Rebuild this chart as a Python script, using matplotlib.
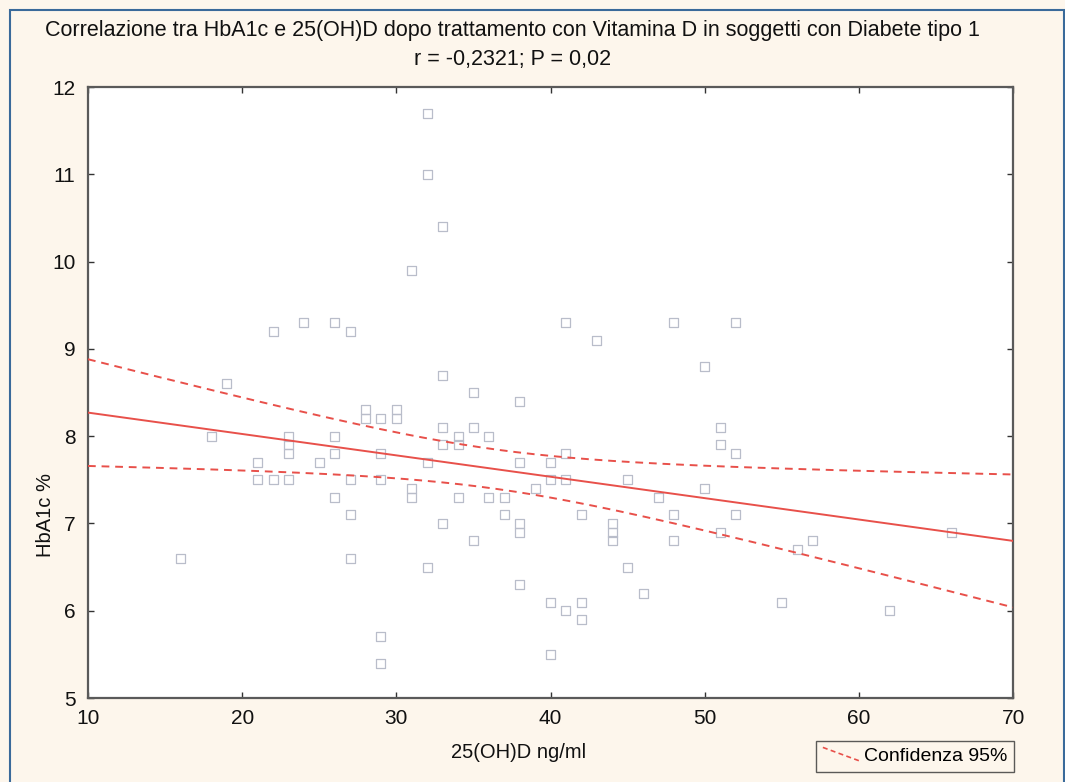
import numpy as np
import matplotlib
matplotlib.use("Agg")
import matplotlib.pyplot as plt
from matplotlib.lines import Line2D
from matplotlib.legend_handler import HandlerLine2D
from matplotlib.patches import Rectangle

plt.rcParams['font.family'] = ['Liberation Sans', 'DejaVu Sans']

# 25(OH)D ng/ml and HbA1c %
vit_d = [16, 18, 19, 21, 21, 22, 22, 23, 23, 23, 23, 24, 25,
         26, 26, 26, 26, 27, 27, 27, 27, 28, 28, 29, 29, 29, 29, 29,
         30, 30, 31, 31, 31, 32, 32, 32, 32, 33, 33, 33, 33, 33,
         34, 34, 34, 35, 35, 35, 36, 36, 37, 37, 38, 38, 38, 38, 38,
         39, 40, 40, 40, 40, 41, 41, 41, 41, 42, 42, 42, 43,
         44, 44, 44, 45, 45, 46, 47, 48, 48, 48, 50, 50,
         51, 51, 51, 52, 52, 52, 55, 56, 57, 62, 66]
hba1c = [6.6, 8.0, 8.6, 7.7, 7.5, 9.2, 7.5, 8.0, 7.9, 7.8, 7.5, 9.3, 7.7,
         9.3, 8.0, 7.8, 7.3, 9.2, 7.5, 7.1, 6.6, 8.3, 8.2, 8.2, 7.8, 7.5, 5.7, 5.4,
         8.3, 8.2, 9.9, 7.4, 7.3, 11.7, 11.0, 7.7, 6.5, 10.4, 8.7, 8.1, 7.9, 7.0,
         8.0, 7.9, 7.3, 8.5, 8.1, 6.8, 8.0, 7.3, 7.3, 7.1, 8.4, 7.7, 7.0, 6.9, 6.3,
         7.4, 7.7, 7.5, 6.1, 5.5, 9.3, 7.8, 7.5, 6.0, 7.1, 6.1, 5.9, 9.1,
         7.0, 6.9, 6.8, 7.5, 6.5, 6.2, 7.3, 9.3, 7.1, 6.8, 8.8, 7.4,
         8.1, 7.9, 6.9, 9.3, 7.8, 7.1, 6.1, 6.7, 6.8, 6.0, 6.9]

# regression line as drawn in the original (value at x=10 and x=70)
fit_ends = [8.27, 6.80]

title = ("Correlazione tra HbA1c e 25(OH)D dopo trattamento con Vitamina D in soggetti con Diabete tipo 1\n"
         "r = -0,2321; P = 0,02")

x = np.array(vit_d, dtype=float)
y = np.array(hba1c, dtype=float)
n = len(x)
slope = (fit_ends[1] - fit_ends[0]) / 60.0
intercept = fit_ends[0] - slope * 10
resid = y - (intercept + slope * x)
s = np.sqrt(np.sum(resid ** 2) / (n - 2))
sxx = np.sum((x - x.mean()) ** 2)
xs = np.linspace(10, 70, 200)
fit = intercept + slope * xs
half = 1.985 * s * np.sqrt(1.0 / n + (xs - x.mean()) ** 2 / sxx)

bg = '#fdf6ec'
red = '#e8504a'
fig = plt.figure(figsize=(10.65, 7.82), dpi=100, facecolor=bg)
ax = fig.add_axes([0.0826, 0.1074, 0.8687, 0.7813])
ax.set_facecolor('white')

ax.scatter(x, y, marker='s', s=42, facecolors='none', edgecolors='#b9bdca', linewidths=0.9, zorder=2)
ax.plot(xs, fit, color=red, lw=1.4, zorder=3)
ax.plot(xs, fit + half, color=red, lw=1.4, ls=(0, (4, 3)), zorder=3)
ax.plot(xs, fit - half, color=red, lw=1.4, ls=(0, (4, 3)), zorder=3)

ax.set_xlim(10, 70)
ax.set_ylim(5, 12)
ax.set_xticks(range(10, 71, 10))
ax.set_yticks(range(5, 13))
ax.tick_params(direction='in', length=4, width=1, top=True, right=True,
               labelsize=15, colors='#333333', labelcolor='#111111')
ax.tick_params(axis='x', pad=8)
ax.tick_params(axis='y', pad=9)
for sp in ax.spines.values():
    sp.set_color('#5a5a5a')
    sp.set_linewidth(1.6)

fig.text(0.481, 0.975, title, ha='center', va='top', fontsize=15.5, linespacing=1.55, color='#111111')
fig.text(0.487, 0.038, "25(OH)D ng/ml", ha='center', va='center', fontsize=14.5, color='#111111')
fig.text(0.043, 0.342, "HbA1c %", ha='center', va='center', rotation=90, fontsize=14.5, color='#111111')


class DiagHandler(HandlerLine2D):
    def create_artists(self, legend, orig_handle, xdescent, ydescent, width, height, fontsize, trans):
        l1 = Line2D([0, width], [height, 0], color=red, lw=1.2, ls=(0, (3, 2)), transform=trans)
        return [l1]


handle = Line2D([], [], color=red, ls='--')
leg = fig.legend([handle], ["Confidenza 95%"], handler_map={Line2D: DiagHandler()},
                 loc='lower right', bbox_to_anchor=(0.952, 0.013), fontsize=14,
                 frameon=True, fancybox=False, edgecolor='#333333', facecolor=bg,
                 handlelength=1.9, handletextpad=0.2, borderpad=0.35, borderaxespad=0)
leg.get_frame().set_linewidth(1.0)

fig.add_artist(Rectangle((0.009, -0.01), 0.99, 0.997, transform=fig.transFigure,
                         fill=False, edgecolor='#3a6a9a', lw=1.5))

fig.savefig("out.png", dpi=100, facecolor=bg)
